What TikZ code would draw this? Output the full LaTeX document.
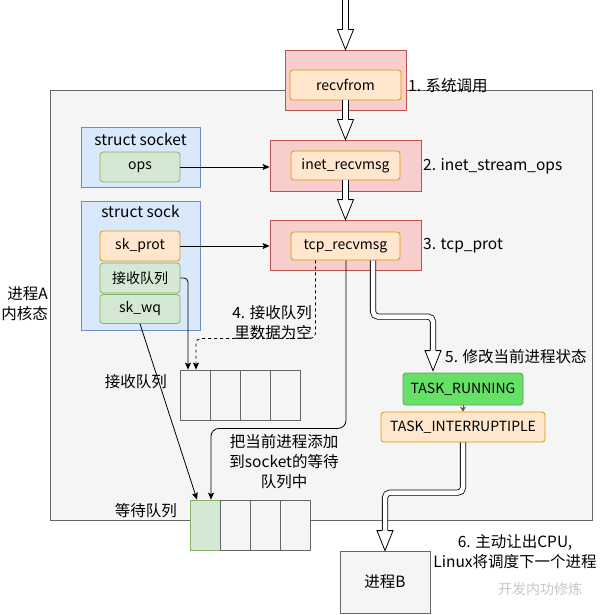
\documentclass[tikz,border=0pt]{standalone}
\usepackage{fontspec}
\setmainfont{Noto Sans CJK SC}
\usetikzlibrary{arrows.meta,calc}
\definecolor{redfill}{HTML}{F8CECC}
\definecolor{redline}{HTML}{B85450}
\definecolor{orfill}{HTML}{FFE6CC}
\definecolor{orline}{HTML}{D79B00}
\definecolor{bluefill}{HTML}{DAE8FC}
\definecolor{blueline}{HTML}{6C8EBF}
\definecolor{grfill}{HTML}{D5E8D4}
\definecolor{grline}{HTML}{82B366}
\definecolor{greyfill}{HTML}{F5F5F5}
\definecolor{greyline}{HTML}{666666}
\definecolor{runfill}{HTML}{66E066}
\definecolor{runline}{HTML}{5AA25A}
\definecolor{brownarrow}{HTML}{7F4A1E}
\tikzset{
  base/.style={draw, line width=0.8pt, inner sep=0pt},
  redbox/.style={base, fill=redfill, draw=redline},
  orbox/.style={base, fill=orfill, draw=orline, rounded corners=3pt, font=\fontsize{14}{16}\selectfont},
  bluebox/.style={base, fill=bluefill, draw=blueline},
  grbox/.style={base, fill=grfill, draw=grline, rounded corners=3pt, font=\fontsize{14}{16}\selectfont},
  runbox/.style={base, fill=runfill, draw=runline, rounded corners=3pt, font=\fontsize{14}{16}\selectfont},
  cell/.style={base, fill=greyfill, draw=greyline, minimum width=30, minimum height=50},
  gcell/.style={base, fill=grfill, draw=grline, minimum width=30, minimum height=50},
  lbl/.style={inner sep=0pt, font=\fontsize{15.5}{20}\selectfont},
  title/.style={inner sep=0pt, font=\fontsize{15.5}{18}\selectfont},
  conn/.style={line width=0.8pt, -{Stealth[length=7pt,width=6pt,inset=1.5pt]}},
  hshaft/.style={draw, line width=0.8pt, double=white, double distance=4.5pt},
  hhead/.style={fill=white, draw, line width=0.8pt, line join=miter},
}
\newcommand{\hollowhead}[1]{%
  \filldraw[hhead] ($(#1)+(-3.05,-20)$) -- ++(-4.95,0) -- (#1) -- ($(#1)+(8,-20)$) -- ++(-4.95,0);}
\begin{document}
\begin{tikzpicture}[x=1pt,y=-1pt]
\useasboundingbox (0,0) rectangle (606,615);
% process A kernel area
\node[base, fill=greyfill, draw=greyline, minimum width=542, minimum height=430] (proc) at (321,305) {};
\node[lbl, align=right, anchor=east] (plab) at (48,304) {进程A\\内核态};

% boxes: call chain
\node[redbox, minimum width=121, minimum height=60] (recv) at (345.5,80) {};
\node[orbox, minimum width=111, minimum height=30] (recvin) at (345.5,85) {recvfrom};
\node[redbox, minimum width=151, minimum height=51] (inet) at (345.5,165.5) {};
\node[orbox, minimum width=109, minimum height=29] (inetin) at (345.5,165.5) {inet\_recvmsg};
\node[redbox, minimum width=151, minimum height=50] (tcp) at (345.5,245) {};
\node[orbox, minimum width=109, minimum height=28] (tcpin) at (345.5,246) {tcp\_recvmsg};

% hollow arrows
\coordinate (topin) at (345.5,0);
\draw[hshaft] (topin) -- ($(recv.north)+(0,-20)$);
\hollowhead{recv.north}
\draw[hshaft] (recvin.south) -- ($(inet.north)+(0,-20)$);
\hollowhead{inet.north}
\draw[hshaft] (inetin.south) -- ($(tcp.north)+(0,-20)$);
\hollowhead{tcp.north}

\node[lbl, anchor=west] (l1) at (408,86) {1. 系统调用};
\node[lbl, anchor=west] (l2) at (423,166) {2. inet\_stream\_ops};
\node[lbl, anchor=west] (l3) at (423,246) {3. tcp\_prot};

% struct socket
\node[bluebox, minimum width=119, minimum height=60] (socket) at (140.5,157) {};
\node[title] (sockett) at (140.5,139) {struct socket};
\node[grbox, minimum width=80, minimum height=30] (ops) at (140,167) {ops};
% struct sock
\node[bluebox, minimum width=119, minimum height=129] (sock) at (140.5,265.5) {};
\node[title] (sockt) at (140.5,211) {struct sock};
\node[orbox, minimum width=80, minimum height=30] (skprot) at (140,246) {sk\_prot};
\node[grbox, minimum width=80, minimum height=30] (rqf) at (140,278) {接收队列};
\node[grbox, minimum width=80, minimum height=29] (skwq) at (140,309) {sk\_wq};

\draw[conn] (ops.east) -- (ops.east -| inet.west);
\draw[conn] (skprot.east) -- (skprot.east -| tcp.west);

% receive queue
\node[cell] (rq1) at (195,395) {};
\node[cell] (rq2) at (225,395) {};
\node[cell] (rq3) at (255,395) {};
\node[cell] (rq4) at (285,395) {};
\node[lbl, anchor=east] (rqlab) at (167,382) {接收队列};

% wait queue
\node[gcell] (wq1) at (205,525) {};
\node[cell] (wq2) at (235,525) {};
\node[cell] (wq3) at (265,525) {};
\node[cell] (wq4) at (295,525) {};
\node[lbl, anchor=east] (wqlab) at (177,511) {等待队列};

% connectors to queues
\draw[conn, rounded corners=4pt] (rqf.east) -| ($(rq1.north)+(-7,0)$);
\draw[conn, dashed, rounded corners=5pt] ($(tcpin.south)+(-30,0)$) -- ++(0,78) -| ($(rq1.north)+(1,0)$);
\node[lbl, align=right, anchor=east] (l4) at (312,323) {4. 接收队列\\里数据为空};
\draw[conn] (skwq.south) -- ($(wq1.north)+(-8,0)$);
\draw[conn, rounded corners=8pt] ($(tcpin.south)+(0.5,0)$) -- ++(0,168) -| ($(wq1.north)+(6,0)$);
\node[lbl, align=center] (ladd) at (284,462) {把当前进程添加\\到socket的等待\\队列中};

% task states
\node[runbox, minimum width=120, minimum height=32] (run) at (463,389) {TASK\_RUNNING};
\node[orbox, minimum width=164, minimum height=30] (intr) at (463,427) {TASK\_INTERRUPTIPLE};
\draw[line width=0.8pt, brownarrow, -{Stealth[length=5pt,width=6pt]}] (run.south) -- (intr.north);
\coordinate (runtip) at ($(run.north)+(-30,-2)$);
\draw[hshaft, rounded corners=5pt] ($(tcpin.south)+(27.5,0)$) |- ($(runtip)+(0,-54)$) -- ($(runtip)+(0,-20)$);
\hollowhead{runtip}
\node[lbl, anchor=west] (l5) at (445,357) {5. 修改当前进程状态};

% process B
\node[base, fill=greyfill, draw=greyline, minimum width=90, minimum height=62, font=\fontsize{15.5}{18}\selectfont] (pb) at (385,582) {进程B};
\draw[hshaft, rounded corners=5pt] (intr.south) |- ($(pb.north)+(0,-58)$) -- ($(pb.north)+(0,-20)$);
\hollowhead{pb.north}
\node[lbl, align=center] (l6) at (515,552) {6. 主动让出CPU,\\Linux将调度下一个进程};
\node[inner sep=0pt, font=\fontsize{14}{16}\selectfont, text=gray!45] (wm) at (540,589) {开发内功修炼};
\end{tikzpicture}
\end{document}
